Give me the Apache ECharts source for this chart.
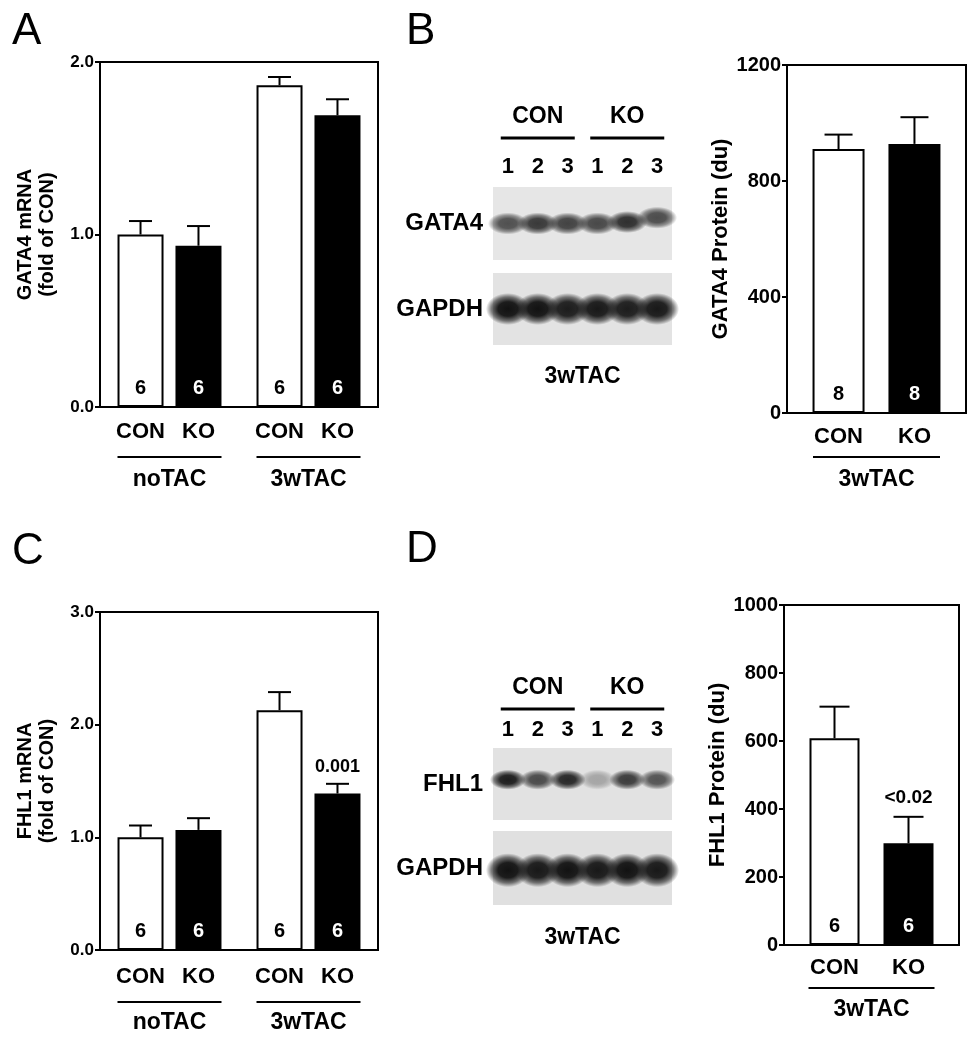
<!DOCTYPE html>
<html><head><meta charset="utf-8">
<script src="https://cdn.jsdelivr.net/npm/echarts@6/dist/echarts.min.js"></script>
<style>html,body{margin:0;padding:0;background:#fff}#c{width:977px;height:1050px}</style>
</head><body><div id="c"></div>
<script>
// ---------------- data ----------------
const genotypes = ['CON', 'KO'];
const mrnaGroups = ['noTAC', '3wTAC'];
const proteinGroups = ['3wTAC'];

// Panel A: GATA4 mRNA (fold of CON)
const gata4mRNA_CON = [1.00, 1.865];
const gata4mRNA_CON_SEM = [0.078, 0.048];
const gata4mRNA_KO = [0.935, 1.691];
const gata4mRNA_KO_SEM = [0.114, 0.093];
const gata4mRNA_n_CON = [6, 6];
const gata4mRNA_n_KO = [6, 6];
const gata4mRNA_P_KO = ['', ''];

// Panel B: GATA4 protein (du)
const gata4Prot_CON = [910];
const gata4Prot_CON_SEM = [50];
const gata4Prot_KO = [928];
const gata4Prot_KO_SEM = [92];
const gata4Prot_n_CON = [8];
const gata4Prot_n_KO = [8];
const gata4Prot_P_KO = [''];

// Panel C: FHL1 mRNA (fold of CON)
const fhl1mRNA_CON = [1.00, 2.129];
const fhl1mRNA_CON_SEM = [0.105, 0.16];
const fhl1mRNA_KO = [1.066, 1.389];
const fhl1mRNA_KO_SEM = [0.104, 0.086];
const fhl1mRNA_n_CON = [6, 6];
const fhl1mRNA_n_KO = [6, 6];
const fhl1mRNA_P_KO = ['', '0.001'];

// Panel D: FHL1 protein (du)
const fhl1Prot_CON = [608];
const fhl1Prot_CON_SEM = [93];
const fhl1Prot_KO = [299];
const fhl1Prot_KO_SEM = [78];
const fhl1Prot_n_CON = [6];
const fhl1Prot_n_KO = [6];
const fhl1Prot_P_KO = ['<0.02'];

// Western blots (3wTAC): lane labels and band intensities (0..1), band vertical position (0..1)
const laneLabels = ['1', '2', '3', '1', '2', '3'];
const blotGroups = ['CON', 'KO'];
const gata4Band = [0.78, 0.9, 0.85, 0.82, 0.95, 0.8];
const gata4BandY = [0.50, 0.50, 0.50, 0.50, 0.52, 0.58];
const gapdhBandB = [1.0, 1.0, 0.95, 0.97, 0.95, 0.97];
const gapdhBandBY = [0.50, 0.50, 0.50, 0.50, 0.50, 0.50];
const fhl1Band = [0.97, 0.75, 0.92, 0.3, 0.82, 0.7];
const fhl1BandY = [0.56, 0.56, 0.56, 0.56, 0.56, 0.56];
const gapdhBandD = [1.0, 0.97, 1.0, 0.97, 1.0, 0.97];
const gapdhBandDY = [0.47, 0.47, 0.47, 0.47, 0.47, 0.47];

// ---------------- build ----------------
const FF = '"Liberation Sans", Arial, Helvetica, sans-serif';
const grids = [], xAxes = [], yAxes = [], series = [];

function errSeries(ax, vals, sem, offset, capHalf, pLabels, pGap, pFont) {
  return {
    type: 'custom', xAxisIndex: ax, yAxisIndex: ax, z: 5, silent: true,
    data: vals.map((v, i) => [i, v, sem[i]]),
    encode: { x: 0, y: 1 },
    renderItem: (params, api) => {
      const i = api.value(0), v = api.value(1), e = api.value(2);
      const top = api.coord([i, v]);
      const end = api.coord([i, v + e]);
      const x = top[0] + offset;
      const children = [
        { type: 'line', shape: { x1: x, y1: top[1], x2: x, y2: end[1] }, style: { stroke: '#000', lineWidth: 2 } },
        { type: 'line', shape: { x1: x - capHalf, y1: end[1], x2: x + capHalf, y2: end[1] }, style: { stroke: '#000', lineWidth: 2 } }
      ];
      const p = pLabels && pLabels[params.dataIndex];
      if (p) {
        children.push({ type: 'text', style: { text: p, x: x, y: end[1] - pGap, align: 'center', verticalAlign: 'middle',
          textAlign: 'center', textVerticalAlign: 'middle', fontSize: pFont, fontWeight: 'bold', fontFamily: FF, fill: '#000' } });
      }
      return { type: 'group', children };
    }
  };
}

function barPanel(cfg) {
  const gi = grids.length;
  grids.push({ left: cfg.left, top: cfg.top, width: cfg.width, height: cfg.height,
    show: true, borderColor: '#000', borderWidth: 2, backgroundColor: 'transparent' });
  const xi = xAxes.length;
  xAxes.push({
    gridIndex: gi, type: 'category', data: cfg.cats,
    axisLine: { show: true, lineStyle: { color: '#000', width: 2 } },
    axisTick: { show: false },
    axisLabel: {
      interval: 0, margin: cfg.labMargin, color: '#000',
      formatter: v => `{a|${genotypes[0]}}{a|${genotypes[1]}}\n{l| }\n{g|${v}}`,
      rich: {
        a: { width: cfg.subW, align: 'center', fontSize: 22, fontWeight: 'bold', fontFamily: FF, color: '#000', lineHeight: 26 },
        l: { width: cfg.lineW, height: 2, lineHeight: cfg.lh2, backgroundColor: '#000', fontSize: 2 },
        g: { fontSize: 23, fontWeight: 'bold', fontFamily: FF, color: '#000', lineHeight: cfg.lh3 }
      }
    }
  });
  yAxes.push({
    gridIndex: gi, type: 'value', min: cfg.min, max: cfg.max, interval: cfg.interval,
    axisLine: { show: true, lineStyle: { color: '#000', width: 2 } },
    axisTick: { show: true, length: 5, lineStyle: { color: '#000', width: 2 } },
    splitLine: { show: false },
    axisLabel: { color: '#000', fontSize: cfg.tickFont, fontWeight: 'bold', fontFamily: FF, margin: 6,
      formatter: cfg.tickFmt },
    name: cfg.yName, nameLocation: 'middle', nameGap: cfg.nameGap,
    nameTextStyle: { color: '#000', fontSize: cfg.nameFont, fontWeight: 'bold', fontFamily: FF, lineHeight: cfg.nameFont + 2 }
  });
  const labelBase = { show: true, position: 'insideBottom', distance: 9, fontSize: 20, fontWeight: 'bold', fontFamily: FF };
  series.push({
    type: 'bar', name: genotypes[0], xAxisIndex: xi, yAxisIndex: xi, data: cfg.con,
    barWidth: cfg.barW, barGap: cfg.barGap,
    itemStyle: { color: '#fff', borderColor: '#000', borderWidth: 2 },
    label: Object.assign({}, labelBase, { color: '#000', formatter: p => String(cfg.nCon[p.dataIndex]) }),
    silent: true
  });
  series.push({
    type: 'bar', name: genotypes[1], xAxisIndex: xi, yAxisIndex: xi, data: cfg.ko,
    barWidth: cfg.barW, barGap: cfg.barGap,
    itemStyle: { color: '#000', borderColor: '#000', borderWidth: 2 },
    label: Object.assign({}, labelBase, { color: '#fff', formatter: p => String(cfg.nKo[p.dataIndex]) }),
    silent: true
  });
  const off = (cfg.barW + cfg.barW * parseFloat(cfg.barGap) / 100) / 2;
  series.push(errSeries(xi, cfg.con, cfg.conSem, -off, cfg.cap, null));
  series.push(errSeries(xi, cfg.ko, cfg.koSem, off, cfg.cap, cfg.pKo, cfg.pGap, cfg.pFont));
}

function bandGradient(rgb) {
  return { type: 'radial', x: 0.5, y: 0.5, r: 0.5, colorStops: [
    { offset: 0, color: `rgba(${rgb},1)` },
    { offset: 0.45, color: `rgba(${rgb},0.95)` },
    { offset: 0.75, color: `rgba(${rgb},0.55)` },
    { offset: 1, color: `rgba(${rgb},0)` }
  ] };
}

function blotPanel(cfg) {
  const gi = grids.length;
  grids.push({ left: cfg.left, top: cfg.top, width: cfg.width, height: cfg.height,
    show: true, borderWidth: 0, backgroundColor: cfg.bg });
  const xi = xAxes.length;
  const hidden = { axisLine: { show: false }, axisTick: { show: false }, splitLine: { show: false } };
  xAxes.push(Object.assign({
    gridIndex: gi, type: 'category', data: laneLabels, position: cfg.lanesOnTop ? 'top' : 'bottom',
    axisLabel: cfg.lanesOnTop ? { show: true, interval: 0, margin: cfg.laneMargin, color: '#000', fontSize: 22, fontWeight: 'bold', fontFamily: FF } : { show: false },
    name: cfg.xName || '', nameLocation: 'middle', nameGap: cfg.xNameGap || 0,
    nameTextStyle: { color: '#000', fontSize: 23, fontWeight: 'bold', fontFamily: FF }
  }, hidden));
  yAxes.push(Object.assign({
    gridIndex: gi, type: 'value', min: 0, max: 1,
    axisLabel: { show: false },
    name: cfg.protein, nameLocation: 'middle', nameRotate: 0, nameGap: 10,
    nameTextStyle: { color: '#000', fontSize: 24, fontWeight: 'bold', fontFamily: FF, align: 'right', verticalAlign: 'middle' }
  }, hidden));
  if (cfg.lanesOnTop) {
    xAxes.push(Object.assign({
      gridIndex: gi, type: 'category', data: blotGroups, position: 'top', offset: cfg.groupOffset,
      axisLabel: {
        show: true, interval: 0, margin: 0, color: '#000',
        formatter: v => `{t|${v}}\n{l| }`,
        rich: {
          t: { fontSize: 23, fontWeight: 'bold', fontFamily: FF, color: '#000', lineHeight: 26 },
          l: { width: 74, height: 3, lineHeight: cfg.groupLineLH, backgroundColor: '#000', fontSize: 2 }
        }
      }
    }, hidden));
  }
  series.push({
    type: 'scatter', xAxisIndex: xi, yAxisIndex: yAxes.length - 1, silent: true, clip: true,
    symbol: 'circle', symbolSize: cfg.bandSize,
    data: cfg.bands.map((v, i) => ({ value: [i, cfg.bandY[i]], itemStyle: { opacity: v } })),
    itemStyle: { color: bandGradient(cfg.bandRGB) }
  });
}

// Bar panels
barPanel({ left: 100, top: 62, width: 278, height: 345, cats: mrnaGroups,
  con: gata4mRNA_CON, conSem: gata4mRNA_CON_SEM, ko: gata4mRNA_KO, koSem: gata4mRNA_KO_SEM,
  nCon: gata4mRNA_n_CON, nKo: gata4mRNA_n_KO, pKo: gata4mRNA_P_KO,
  min: 0, max: 2, interval: 1, tickFmt: v => v.toFixed(1), tickFont: 17,
  yName: 'GATA4 mRNA\n(fold of CON)', nameGap: 42, nameFont: 20,
  barW: 46, barGap: '26%', cap: 11.5, subW: 58, lineW: 104, labMargin: 12, lh2: 24, lh3: 22, pGap: 16, pFont: 18 });

barPanel({ left: 787, top: 65, width: 179, height: 348, cats: proteinGroups,
  con: gata4Prot_CON, conSem: gata4Prot_CON_SEM, ko: gata4Prot_KO, koSem: gata4Prot_KO_SEM,
  nCon: gata4Prot_n_CON, nKo: gata4Prot_n_KO, pKo: gata4Prot_P_KO,
  min: 0, max: 1200, interval: 400, tickFmt: v => String(v), tickFont: 20,
  yName: 'GATA4 Protein (du)', nameGap: 52, nameFont: 22,
  barW: 52, barGap: '46%', cap: 14, subW: 76, lineW: 127, labMargin: 11, lh2: 14, lh3: 32, pGap: 18, pFont: 19 });

barPanel({ left: 100, top: 612, width: 278, height: 338, cats: mrnaGroups,
  con: fhl1mRNA_CON, conSem: fhl1mRNA_CON_SEM, ko: fhl1mRNA_KO, koSem: fhl1mRNA_KO_SEM,
  nCon: fhl1mRNA_n_CON, nKo: fhl1mRNA_n_KO, pKo: fhl1mRNA_P_KO,
  min: 0, max: 3, interval: 1, tickFmt: v => v.toFixed(1), tickFont: 17,
  yName: 'FHL1 mRNA\n(fold of CON)', nameGap: 42, nameFont: 20,
  barW: 46, barGap: '26%', cap: 11.5, subW: 58, lineW: 104, labMargin: 14, lh2: 24, lh3: 18, pGap: 17, pFont: 18 });

barPanel({ left: 784, top: 605, width: 175, height: 340, cats: proteinGroups,
  con: fhl1Prot_CON, conSem: fhl1Prot_CON_SEM, ko: fhl1Prot_KO, koSem: fhl1Prot_KO_SEM,
  nCon: fhl1Prot_n_CON, nKo: fhl1Prot_n_KO, pKo: fhl1Prot_P_KO,
  min: 0, max: 1000, interval: 200, tickFmt: v => String(v), tickFont: 20,
  yName: 'FHL1 Protein (du)', nameGap: 51, nameFont: 22,
  barW: 50, barGap: '48%', cap: 15, subW: 74, lineW: 126, labMargin: 10, lh2: 14, lh3: 30, pGap: 19, pFont: 19 });

// Blots
blotPanel({ left: 493, top: 187, width: 179, height: 73, bg: '#e6e6e6', protein: 'GATA4',
  bands: gata4Band, bandY: gata4BandY, bandSize: [40, 22], bandRGB: '38,38,38',
  lanesOnTop: true, laneMargin: 9, groupOffset: 41, groupLineLH: 16 });
blotPanel({ left: 493, top: 273, width: 179, height: 72, bg: '#e3e3e3', protein: 'GAPDH',
  bands: gapdhBandB, bandY: gapdhBandBY, bandSize: [44, 32], bandRGB: '18,18,18',
  lanesOnTop: false, xName: '3wTAC', xNameGap: 20 });
blotPanel({ left: 493, top: 748, width: 179, height: 72, bg: '#e2e2e2', protein: 'FHL1',
  bands: fhl1Band, bandY: fhl1BandY, bandSize: [36, 20], bandRGB: '24,24,24',
  lanesOnTop: true, laneMargin: 7, groupOffset: 31, groupLineLH: 16 });
blotPanel({ left: 493, top: 831, width: 179, height: 74, bg: '#e0e0e0', protein: 'GAPDH',
  bands: gapdhBandD, bandY: gapdhBandDY, bandSize: [44, 34], bandRGB: '18,18,18',
  lanesOnTop: false, xName: '3wTAC', xNameGap: 21 });

const letterStyle = { fontSize: 44, fontWeight: 'normal', fontFamily: FF, color: '#000' };
const option = {
  backgroundColor: '#fff',
  animation: false,
  title: [
    { text: 'A', left: 7, top: 5, textStyle: letterStyle },
    { text: 'B', left: 401, top: 5, textStyle: letterStyle },
    { text: 'C', left: 7, top: 525, textStyle: letterStyle },
    { text: 'D', left: 401, top: 523, textStyle: letterStyle }
  ],
  grid: grids, xAxis: xAxes, yAxis: yAxes, series: series
};
const chart = echarts.init(document.getElementById('c'), null, { renderer: 'canvas' });
chart.setOption(option);
</script>
</body></html>
